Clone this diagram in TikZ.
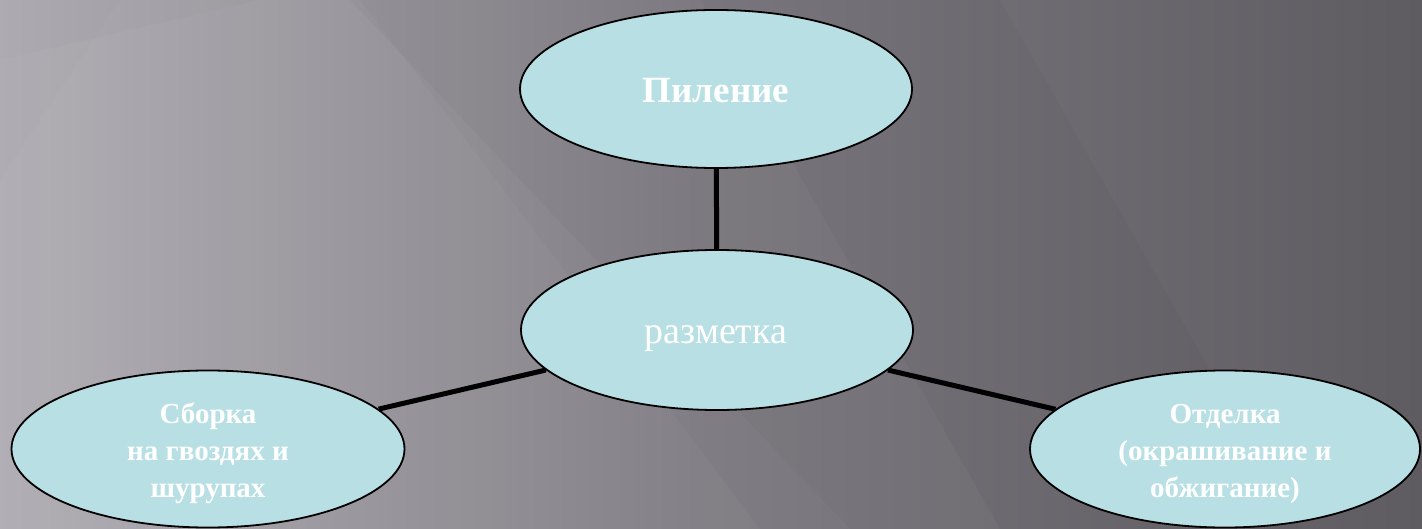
\documentclass[tikz,border=0pt]{standalone}
\usepackage{fontspec}
\setmainfont{Liberation Serif}
\usetikzlibrary{shapes.geometric}
\definecolor{bgL}{HTML}{ADAAB1}
\definecolor{bgM}{HTML}{7B787F}
\definecolor{bgR}{HTML}{5E5B61}
\definecolor{ovfill}{HTML}{B8E0E4}
\tikzset{
  oval/.style={ellipse, draw=black, line width=1.8bp, fill=ovfill, inner sep=0pt},
  txtbig/.style={text=white, font=\bfseries\fontsize{37bp}{44bp}\selectfont, anchor=base, inner sep=0pt},
  txtreg/.style={text=white, font=\fontsize{38bp}{44bp}\selectfont, anchor=base, inner sep=0pt},
  txtsmall/.style={text=white, font=\bfseries\fontsize{29bp}{37bp}\selectfont, align=center, inner sep=0pt},
  link/.style={line width=5bp, black}
}
\begin{document}
\begin{tikzpicture}[x=1bp,y=-1bp]
\useasboundingbox (0,0) rectangle (1422,529);
% background
\shade[left color=bgL, right color=bgR, middle color=bgM] (0,0) rectangle (1422,529);
\fill[white, opacity=0.035] (0,60) -- (260,0) -- (700,0) -- (1000,529) -- (0,529) -- cycle;
\fill[white, opacity=0.03] (0,180) -- (120,0) -- (360,0) -- (760,529) -- (0,529) -- cycle;
\fill[black, opacity=0.025] (350,0) -- (1000,0) -- (1300,529) -- (850,529) -- cycle;
% ellipses
\node[oval, minimum width=392bp, minimum height=158bp] (pil) at (716,89) {};
\node[oval, minimum width=392bp, minimum height=160bp] (raz) at (717,330) {};
\node[oval, minimum width=393bp, minimum height=157bp] (sbo) at (208,449) {};
\node[oval, minimum width=390bp, minimum height=157bp] (otd) at (1225,449) {};
% connectors
\draw[link] (pil) -- (raz);
\draw[link] (sbo) -- (raz);
\draw[link] (otd) -- (raz);
% texts
\node[txtbig] (tpil) at (716,103) {Пиление};
\node[txtreg] (traz) at (716,343) {разметка};
\node[txtsmall, anchor=base] (tsbo) at (208,497) {Сборка\\на гвоздях и\\шурупах};
\node[txtsmall, anchor=base] (totd) at (1225,497) {Отделка\\(окрашивание и\\обжигание)};
\end{tikzpicture}
\end{document}
